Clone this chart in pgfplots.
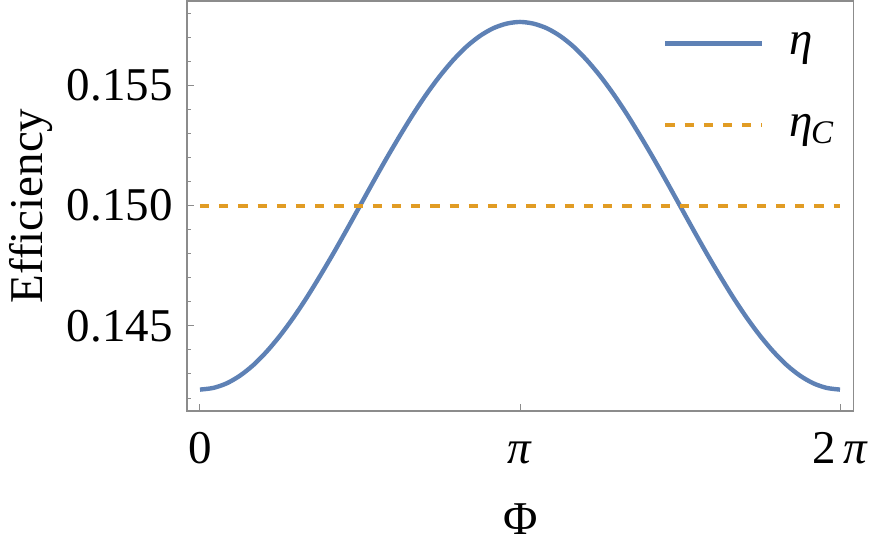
\documentclass[border=0pt]{standalone}
\usepackage{fontspec}
\setmainfont{Liberation Serif}
\usepackage{pgfplots}
\pgfplotsset{compat=1.18}

\definecolor{mblue}{RGB}{94,129,181}
\definecolor{morange}{RGB}{225,156,36}
\newcommand{\bigfont}{\fontsize{23.5}{28}\selectfont}

\begin{document}
\begin{tikzpicture}
  \path[use as bounding box] (-93.5pt,-68.5pt) rectangle (342.5pt,205.5pt);
  \begin{axis}[
      at={(0,0)}, anchor=south west,
      scale only axis,
      width=333.25pt, height=205pt,
      xmin=-0.1276, xmax=6.4157,
      ymin=0.14146, ymax=0.1585,
      axis line style={black!45, line width=0.6pt},
      tick style={black!45, line width=0.5pt},
      major tick length=3.6pt, minor tick length=2pt,
      tick pos=left, tick align=inside,
      xtick={0,3.14159,6.28319},
      xticklabels={0,\textit{π},2\,\textit{π}},
      ytick={0.145,0.150,0.155},
      yticklabels={0.145,0.150,0.155},
      minor ytick={0.142,0.143,0.144,0.146,0.147,0.148,0.149,0.151,0.152,0.153,0.154,0.156,0.157,0.158},
      xticklabel style={font=\bigfont, anchor=base, inner sep=0pt, yshift=-26pt},
      yticklabel style={font=\bigfont, anchor=east, inner sep=0pt, xshift=-7pt},
      every axis x label/.style={at={(axis description cs:0.5,-0.3)}, anchor=base, font=\bigfont},
      every axis y label/.style={at={(axis description cs:-0.2161,0.5)}, rotate=90, anchor=base, font=\bigfont},
      xlabel={Φ},
      ylabel={Efficiency},
      legend cell align=left,
      legend image code/.code={\draw[#1] (0pt,0pt) -- (48.5pt,0pt);},
      legend style={draw=none, fill=none, font=\bigfont,
        at={(axis description cs:0.714,0.949)}, anchor=north west,
        inner sep=0pt, row sep=20pt, column sep=12.5pt,
        nodes={inner sep=0pt, text height=16pt, text depth=5pt}},
    ]
    % efficiency over one period of the phase
    \addplot[mblue, line width=2.2pt, smooth] coordinates {
      (0.0000,0.14235) (0.1309,0.14242) (0.2618,0.14261) (0.3927,0.14293)
      (0.5236,0.14337) (0.6545,0.14393) (0.7854,0.14459) (0.9163,0.14534)
      (1.0472,0.14617) (1.1781,0.14707) (1.3090,0.14801) (1.4399,0.14899)
      (1.5708,0.14999) (1.7017,0.15099) (1.8326,0.15197) (1.9635,0.15291)
      (2.0944,0.15381) (2.2253,0.15464) (2.3562,0.15539) (2.4871,0.15605)
      (2.6180,0.15661) (2.7489,0.15705) (2.8798,0.15737) (3.0107,0.15756)
      (3.1416,0.15763) (3.2725,0.15756) (3.4034,0.15737) (3.5343,0.15705)
      (3.6652,0.15661) (3.7961,0.15605) (3.9270,0.15539) (4.0579,0.15464)
      (4.1888,0.15381) (4.3197,0.15291) (4.4506,0.15197) (4.5815,0.15099)
      (4.7124,0.14999) (4.8433,0.14899) (4.9742,0.14801) (5.1051,0.14707)
      (5.2360,0.14617) (5.3669,0.14534) (5.4978,0.14459) (5.6287,0.14393)
      (5.7596,0.14337) (5.8905,0.14293) (6.0214,0.14261) (6.1523,0.14242)
      (6.2832,0.14235)
    };
    \addlegendentry{\textit{η}}
    % Carnot bound
    \addplot[morange, line width=2pt, dash pattern=on 4.6pt off 5pt] coordinates {
      (0,0.150) (6.2832,0.150)
    };
    \addlegendentry{\textit{η}\kern-0.04em\raisebox{-0.32ex}{\fontsize{16.5}{18}\selectfont\textit{C}}}
  \end{axis}
\end{tikzpicture}
\end{document}
